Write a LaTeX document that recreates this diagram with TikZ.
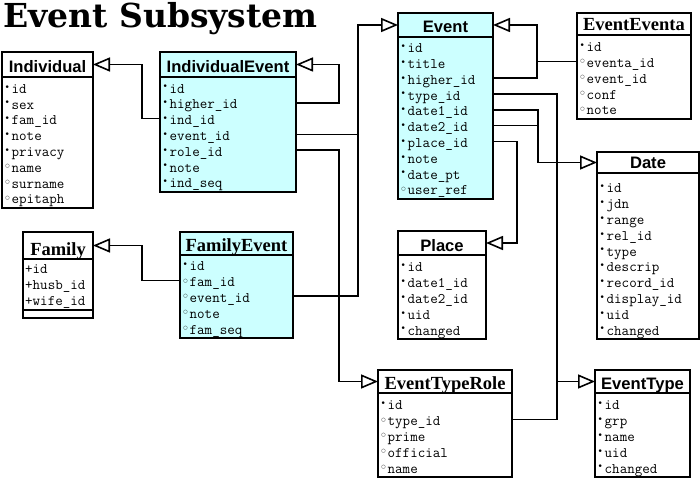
\documentclass[tikz,border=0pt]{standalone}
\usepackage{fontspec}
\usetikzlibrary{arrows.meta,calc}
\newfontfamily\hsans{Liberation Sans}
\newfontfamily\hserif{Liberation Serif}
\newfontfamily\ttlfont{DejaVu Serif}
\newfontfamily\symf{DejaVu Sans}
\definecolor{cy}{RGB}{204,255,255}
\newcommand\fb{\makebox[7pt][l]{\raisebox{3.2pt}{\symf\fontsize{9}{9}\selectfont •}}}
\newcommand\hb{\makebox[7pt][l]{\hspace{0.6pt}\raisebox{4.6pt}{\symf\fontsize{5}{5}\selectfont ○}}}
\tikzset{
  frame/.style={draw, line width=1.6pt, inner sep=0pt, outer sep=0pt, anchor=north west},
  rowt/.style={anchor=base west, inner sep=0pt, text height=12.5pt, text depth=0pt,
    font=\fontsize{14.6}{15}\selectfont\ttfamily},
  hs/.style={anchor=base, inner sep=0pt, font=\fontsize{16.6}{18}\selectfont\hsans\bfseries},
  hr/.style={anchor=base, inner sep=0pt, font=\fontsize{18.5}{20}\selectfont\hserif\bfseries},
  conn/.style={line width=1.6pt},
  gen/.style={conn, -{Triangle[length=17pt,width=14pt,fill=white]}},
}
% name, left, right, top, header line, bottom, fill
\newcommand\umlcls[7]{%
  \node[frame, fill=#7, minimum width=#3-#2, minimum height=#5-#4] (#1) at (#2,#4) {};
  \node[frame, fill=#7, minimum width=#3-#2, minimum height=#6-#5] (#1-b) at (#2,#5) {};
}
% name, x, first baseline, list
\newcommand\umlrows[4]{%
  \foreach \t [count=\i] in {#4}
    \node[rowt] (#1-\i) at ({#2},{#3+(\i-1)*15.8}) {\t};
}
\begin{document}
\begin{tikzpicture}[x=1pt,y=-1pt]
\useasboundingbox (0,0) rectangle (700,486);

\node[anchor=base west, inner sep=0pt] (title) at (3,28)
  {\fontsize{33}{36}\selectfont\ttlfont\bfseries Event Subsystem};

% Individual
\umlcls{ind}{2}{93}{52}{77}{208}{white}
\node[hs] (ind-t) at ($(ind.south)+(0,-4)$) {Individual};
\umlrows{ind}{4.5}{93.4}{\fb id,\fb sex,\fb fam\_id,\fb note,\fb privacy,\hb name,\hb surname,\hb epitaph}

% IndividualEvent
\umlcls{ie}{160}{296}{52}{77}{192}{cy}
\node[hs] (ie-t) at ($(ie.south)+(0,-4)$) {IndividualEvent};
\umlrows{ie}{162.5}{93.2}{\fb id,\fb higher\_id,\fb ind\_id,\fb event\_id,\fb role\_id,\fb note,\fb ind\_seq}

% Event
\umlcls{ev}{398}{493}{13}{37}{199}{cy}
\node[hs] (ev-t) at ($(ev.south)+(0,-4)$) {Event};
\umlrows{ev}{400.5}{52.8}{\fb id,\fb title,\fb higher\_id,\fb type\_id,\fb date1\_id,\fb date2\_id,\fb place\_id,\fb note,\fb date\_pt,\hb user\_ref}

% EventEventa
\umlcls{ee}{577}{691}{13}{35}{119}{white}
\node[hr] (ee-t) at ($(ee.south)+(0,-4)$) {EventEventa};
\umlrows{ee}{579.5}{51.8}{\fb id,\hb eventa\_id,\hb event\_id,\hb conf,\hb note}

% Date
\umlcls{dt}{597}{699}{152}{173}{339}{white}
\node[hs] (dt-t) at ($(dt.south)+(0,-4)$) {Date};
\umlrows{dt}{599.5}{192.8}{\fb id,\fb jdn,\fb range,\fb rel\_id,\fb type,\fb descrip,\fb record\_id,\fb display\_id,\fb uid,\fb changed}

% Place
\umlcls{pl}{398}{486}{231}{255}{339}{white}
\node[hs] (pl-t) at ($(pl.south)+(0,-4)$) {Place};
\umlrows{pl}{400.5}{271.8}{\fb id,\fb date1\_id,\fb date2\_id,\fb uid,\fb changed}

% Family
\umlcls{fam}{23}{93}{232}{259}{310}{white}
\node[frame, fill=white, minimum width=70, minimum height=8] (fam-o) at (23,310) {};
\node[hr] (fam-t) at ($(fam.south)+(0,-4)$) {Family};
\umlrows{fam}{25}{273.4}{+id,+husb\_id,+wife\_id}

% FamilyEvent
\umlcls{fe}{180}{293}{232}{255}{338}{cy}
\node[hr] (fe-t) at ($(fe.south)+(0,-4)$) {FamilyEvent};
\umlrows{fe}{182.5}{270.8}{\fb id,\hb fam\_id,\hb event\_id,\hb note,\hb fam\_seq}

% EventTypeRole
\umlcls{etr}{378}{512}{370}{393}{477}{white}
\node[hr] (etr-t) at ($(etr.south)+(0,-4)$) {EventTypeRole};
\umlrows{etr}{380.5}{409.8}{\fb id,\hb type\_id,\hb prime,\hb official,\hb name}

% EventType
\umlcls{et}{595}{690}{370}{393}{477}{white}
\node[hs] (et-t) at ($(et.south)+(0,-4)$) {EventType};
\umlrows{et}{597.5}{409.8}{\fb id,\fb grp,\fb name,\fb uid,\fb changed}

% connectors
\draw[gen] (ie-b.west |- ie-3) -- ++(-18,0) |- (ind.east);
\draw[gen] (ie-b.east |- ie-2) -- ++(43,0) |- (ie.east);
\draw[gen] (ie-b.east |- ie-5) -- ++(43,0) |- (etr.west);
\draw[conn] (ie-b.east |- ie-4) -- ++(62,0);
\draw[gen] (fe-b.east |- fe-3) -- ++(65,0) |- (ev.west);
\draw[gen] (fe-b.west |- fe-2) -- ++(-38,0) |- (fam.east);
\draw[gen] (ev-b.east |- ev-3) -- ++(44,0) |- (ev.east);
\draw[conn] (ee-b.west |- ee-2) -- ++(-40,0);
\draw[gen] (ev-b.east |- ev-4) -- ++(64,0) |- (et.west);
\draw[conn] (etr-b.east |- etr-2) -| ($(et.west)+(-38,0)$);
\draw[gen] (ev-b.east |- ev-5) -- ++(45,0) |- (dt.west);
\draw[conn] (ev-b.east |- ev-6) -- ++(45,0);
\draw[gen] (ev-b.east |- ev-7) -- ++(24,0) |- (pl.east);
\end{tikzpicture}
\end{document}
